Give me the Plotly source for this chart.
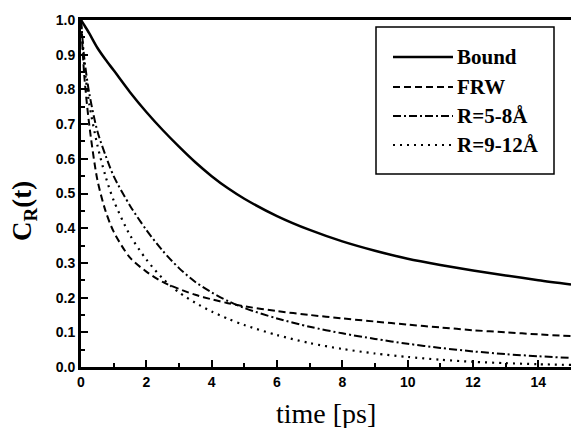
import plotly.graph_objects as go

# ---- data ----
t = [0, 0.1, 0.25, 0.5, 0.75, 1, 1.5, 2, 2.5, 3, 3.5, 4, 4.5, 5, 6, 7, 8, 9, 10, 11, 12, 13, 14, 15]

bound = [1.0, 0.985, 0.962, 0.92, 0.886, 0.855, 0.792, 0.735, 0.683, 0.635, 0.59, 0.55, 0.515, 0.485,
         0.435, 0.395, 0.362, 0.335, 0.312, 0.294, 0.278, 0.264, 0.25, 0.238]
frw = [1.0, 0.84, 0.70, 0.54, 0.45, 0.39, 0.315, 0.275, 0.245, 0.225, 0.208, 0.195, 0.184, 0.175,
       0.161, 0.15, 0.14, 0.131, 0.122, 0.114, 0.106, 0.1, 0.094, 0.089]
r58 = [1.0, 0.89, 0.79, 0.68, 0.61, 0.55, 0.465, 0.395, 0.335, 0.285, 0.245, 0.215, 0.19, 0.17,
       0.14, 0.116, 0.097, 0.081, 0.067, 0.055, 0.045, 0.037, 0.031, 0.026]
r912 = [1.0, 0.87, 0.76, 0.64, 0.55, 0.48, 0.38, 0.31, 0.255, 0.215, 0.185, 0.16, 0.139, 0.121,
        0.092, 0.069, 0.052, 0.039, 0.029, 0.021, 0.015, 0.011, 0.008, 0.006]

series_names = ["Bound", "FRW", "R=5-8Å", "R=9-12Å"]
series_values = [bound, frw, r58, r912]
x_tick_values = [0, 2, 4, 6, 8, 10, 12, 14]
y_tick_values = [0.0, 0.1, 0.2, 0.3, 0.4, 0.5, 0.6, 0.7, 0.8, 0.9, 1.0]

# ---- styles ----
dashes = ["solid", "7px,4px", "8px,3px,2px,3px", "2px,5px"]
widths = [2.5, 2, 2, 2.2]

fig = go.Figure()
for name, vals, d, w in zip(series_names, series_values, dashes, widths):
    fig.add_trace(go.Scatter(x=t, y=vals, mode="lines", name=name, showlegend=False,
                             line=dict(color="black", width=w, dash=d, shape="spline", smoothing=0.8)))

L, R, T, B = 81, 0, 20, 61
W, H = 571, 428
pw, ph = W - L - R, H - T - B

def px_x(px):
    return (px - L) / pw

def px_y(py):
    return (H - B - py) / ph

# custom legend (box, sample lines, labels)
shapes = [dict(type="rect", xref="paper", yref="paper",
               x0=px_x(376), x1=px_x(554), y0=px_y(174), y1=px_y(27),
               line=dict(color="black", width=1.5), fillcolor="white", layer="above")]
annotations = []
legend_rows = [57, 87, 116, 145]
for name, d, w, row in zip(series_names, dashes, widths, legend_rows):
    shapes.append(dict(type="line", xref="paper", yref="paper",
                       x0=px_x(393), x1=px_x(453), y0=px_y(row), y1=px_y(row),
                       line=dict(color="black", width=w, dash=d), layer="above"))
    annotations.append(dict(text=name, xref="paper", yref="paper", x=px_x(455), y=px_y(row),
                            xanchor="left", yanchor="middle", showarrow=False,
                            font=dict(family="Liberation Serif", size=21, color="black", weight=700)))

# axis titles
annotations.append(dict(text="time [ps]", xref="paper", yref="paper", x=px_x(326), y=px_y(413),
                        xanchor="center", yanchor="middle", showarrow=False,
                        font=dict(family="Liberation Serif", size=28, color="black")))
annotations.append(dict(text="C<sub>R</sub>(t)", xref="paper", yref="paper", x=px_x(24), y=px_y(211),
                        xanchor="center", yanchor="middle", showarrow=False, textangle=-90,
                        font=dict(family="Liberation Serif", size=27, color="black", weight=700)))

tickfont = dict(family="Liberation Sans, Arial", size=14, color="black", weight=700)

fig.update_layout(
    width=W, height=H,
    margin=dict(l=L, r=R, t=T, b=B, pad=0),
    paper_bgcolor="white", plot_bgcolor="white",
    shapes=shapes, annotations=annotations,
    xaxis=dict(range=[0, 15], tickvals=x_tick_values, ticks="inside", ticklen=7, tickwidth=2,
               tickcolor="black", showline=True, linewidth=3, linecolor="black", mirror=True,
               showgrid=False, zeroline=False, tickfont=tickfont,
               minor=dict(dtick=1, ticks="inside", ticklen=4, tickwidth=2, tickcolor="black", showgrid=False)),
    yaxis=dict(range=[0, 1], tickvals=y_tick_values, tickformat=".1f", ticks="inside", ticklen=7,
               tickwidth=2, tickcolor="black", showline=True, linewidth=3, linecolor="black",
               showgrid=False, zeroline=False, tickfont=tickfont,
               minor=dict(dtick=0.05, ticks="inside", ticklen=4, tickwidth=2, tickcolor="black", showgrid=False)),
)

fig.write_html("out.html")
